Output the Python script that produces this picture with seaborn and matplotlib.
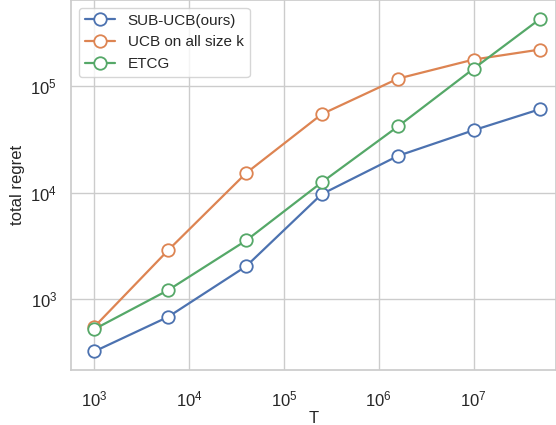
import numpy as np
import pandas as pd
import matplotlib
matplotlib.use('Agg')
import matplotlib.pyplot as plt
import seaborn as sns

T = [1e3, 6e3, 4e4, 2.5e5, 1.6e6, 1e7, 5e7]
sub_ucb = [323, 682, 2040, 9680, 22200, 38600, 60800]
ucb_all = [550, 2880, 15300, 54600, 118000, 178000, 221000]
etcg = [523, 1215, 3560, 12500, 42000, 146000, 427000]
names = ['SUB-UCB(ours)', 'UCB on all size k', 'ETCG']

rows = []
for name, vals in zip(names, [sub_ucb, ucb_all, etcg]):
    for t, v in zip(T, vals):
        rows.append({'T': t, 'total regret': v, 'method': name})
df = pd.DataFrame(rows)


def main():
    sns.set_theme(style='whitegrid')
    plt.rcParams['font.family'] = ['Liberation Sans', 'DejaVu Sans']
    plt.rcParams['mathtext.fontset'] = 'custom'
    plt.rcParams['mathtext.rm'] = 'Liberation Sans'
    plt.rcParams['mathtext.it'] = 'Liberation Sans'

    fig = plt.figure(figsize=(5.56, 4.25), dpi=100)
    ax = fig.add_axes([71 / 556, 55 / 425, 485 / 556, 370 / 425])
    sns.lineplot(data=df, x='T', y='total regret', hue='method', marker='o',
                 markersize=9, linewidth=1.6, ax=ax)
    for line in ax.lines:
        line.set_markerfacecolor('white')
        line.set_markeredgecolor(line.get_color())
        line.set_markeredgewidth(1.3)
    ax.set_xscale('log')
    ax.set_yscale('log')
    ax.set_xlim(10 ** 2.754, 10 ** 7.87)
    ax.set_ylim(10 ** 2.335, 10 ** 5.81)
    ax.tick_params(axis='both', labelsize=12)
    ax.tick_params(axis='x', pad=8)
    ax.tick_params(axis='y', pad=4)
    ax.set_xlabel('T', labelpad=1)
    ax.set_ylabel('total regret')
    leg = ax.legend(loc='upper left', fontsize=11)
    for h in leg.legend_handles:
        h.set_markerfacecolor('white')
        h.set_markeredgecolor(h.get_color())
        h.set_markeredgewidth(1.3)
    fig.savefig('out.png', dpi=100)


main()
